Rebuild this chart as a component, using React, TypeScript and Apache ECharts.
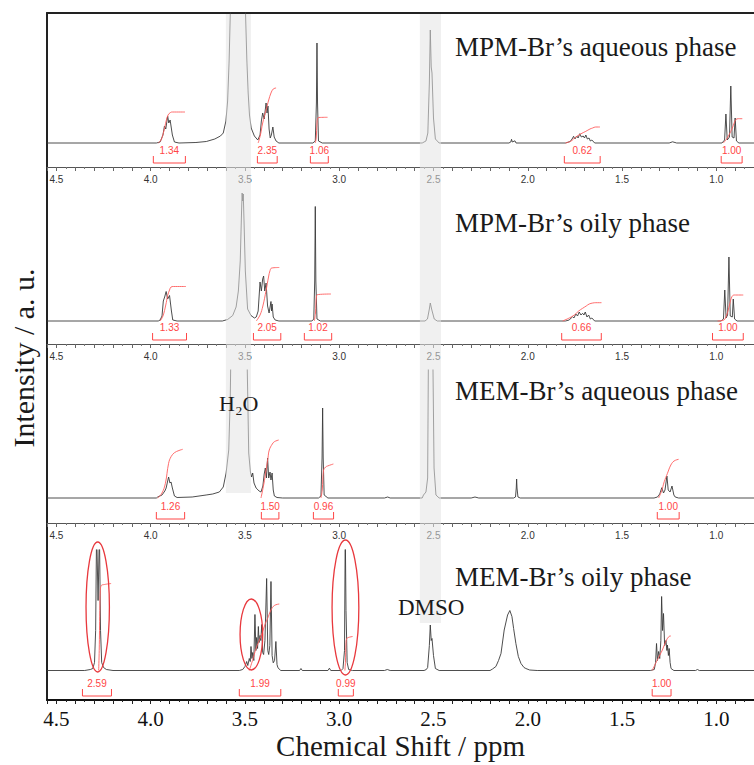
import React, { useEffect, useRef } from "react";
import * as echarts from "echarts";

// ---------- axis ----------
const shiftMin = 0.8;
const shiftMax = 4.55;
const shiftTickStep = 0.1;

const panelTitles = [
  "MPM-Br’s aqueous phase",
  "MPM-Br’s oily phase",
  "MEM-Br’s aqueous phase",
  "MEM-Br’s oily phase",
];
const axisTitleX = "Chemical Shift / ppm";
const axisTitleY = "Intensity / a. u.";
const waterLabel = "H₂O";
const dmsoLabel = "DMSO";

// shaded solvent regions [from ppm, to ppm]
const waterBand = [[3.601, 3.468]];
const dmsoBand = [[2.572, 2.46]];

// ---------- spectra [ppm, intensity] ----------
const mpmAqueousSpectrum = [
  [4.55, 0], [3.97, 0], [3.95, 1], [3.935, 8], [3.927, 17], [3.92, 14], [3.91, 27], [3.904, 20], [3.897, 23], [3.885, 8], [3.874, 1], [3.85, 0],
  [3.76, 0.5], [3.705, 1.5], [3.66, 4], [3.63, 7], [3.615, 10], [3.601, 22], [3.592, 42], [3.584, 82], [3.575, 150], [3.56, 240], [3.537, 300],
  [3.515, 240], [3.5, 150], [3.49, 83], [3.483, 50], [3.476, 28], [3.467, 15], [3.45, 7], [3.432, 3],
  [3.42, 8], [3.413, 22], [3.406, 30], [3.398, 24], [3.388, 40], [3.383, 30], [3.378, 37], [3.372, 14], [3.366, 5], [3.36, 8], [3.352, 16], [3.345, 6], [3.335, 2], [3.32, 0],
  [3.14, 0], [3.127, 2], [3.121, 40], [3.118, 100], [3.115, 40], [3.11, 2], [3.09, 0],
  [2.56, 0], [2.54, 2], [2.53, 10], [2.522, 60], [2.517, 113], [2.512, 76], [2.508, 70], [2.5, 25], [2.49, 4], [2.47, 0],
  [2.1, 0], [2.09, 1], [2.086, 3.7], [2.082, 1], [2.068, 2.2], [2.062, 0],
  [1.8, 0], [1.775, 1.5], [1.765, 4], [1.757, 6.7], [1.75, 4], [1.74, 7], [1.733, 5], [1.724, 9.3], [1.716, 6], [1.706, 7], [1.699, 5], [1.692, 8], [1.684, 4], [1.675, 5], [1.668, 2], [1.66, 3], [1.645, 0],
  [1.25, 0], [1.232, 1.2], [1.21, 0],
  [0.97, 0], [0.956, 3], [0.949, 29], [0.942, 3], [0.93, 6], [0.923, 57], [0.916, 6], [0.906, 5], [0.9, 25], [0.893, 2], [0.88, 0], [0.8, 0],
];

const mpmOilySpectrum = [
  [4.55, 0], [3.96, 0], [3.95, 1], [3.94, 5], [3.933, 20], [3.926, 24], [3.918, 29.5], [3.91, 22], [3.9, 25.5], [3.89, 10], [3.883, 1], [3.86, 0],
  [3.62, 0], [3.592, 1.5], [3.565, 5.5], [3.547, 14], [3.535, 30], [3.525, 60], [3.518, 110], [3.515, 128], [3.512, 120], [3.509, 127], [3.505, 100], [3.498, 50], [3.486, 12], [3.468, 5.5], [3.45, 3], [3.44, 4], [3.43, 10],
  [3.42, 39], [3.413, 30], [3.406, 42], [3.401, 45], [3.395, 30], [3.388, 38], [3.38, 15], [3.372, 8], [3.362, 19.5], [3.359, 10], [3.356, 17], [3.35, 4], [3.34, 1], [3.32, 0],
  [3.145, 0], [3.135, 2], [3.13, 40], [3.127, 114.5], [3.124, 40], [3.118, 2], [3.1, 0],
  [2.545, 0], [2.532, 2], [2.522, 12], [2.517, 18], [2.51, 12], [2.496, 2], [2.48, 0],
  [1.8, 0], [1.78, 1], [1.77, 3], [1.762, 4.3], [1.755, 3], [1.745, 7], [1.736, 5], [1.727, 9], [1.718, 6], [1.709, 7.7], [1.702, 6], [1.695, 9], [1.686, 4], [1.677, 6], [1.668, 2], [1.66, 3], [1.645, 0],
  [0.975, 0], [0.962, 2], [0.955, 31], [0.948, 3], [0.94, 6], [0.933, 64], [0.926, 5], [0.915, 4], [0.91, 22], [0.903, 2], [0.89, 0], [0.8, 0],
];

const memAqueousSpectrum = [
  [4.55, 0], [3.97, 0], [3.963, 1], [3.94, 3], [3.925, 7], [3.918, 10], [3.91, 17], [3.905, 21], [3.898, 15], [3.892, 16], [3.885, 10], [3.874, 2], [3.86, 0.5],
  [3.78, 1], [3.706, 3], [3.671, 4], [3.636, 6], [3.615, 11], [3.6, 25], [3.586, 48], [3.578, 100], [3.572, 180], [3.54, 230], [3.493, 180], [3.486, 110], [3.48, 45],
  [3.471, 26], [3.465, 21], [3.459, 25], [3.452, 15], [3.441, 10], [3.425, 7], [3.415, 6],
  [3.405, 12], [3.398, 24], [3.392, 30], [3.386, 20], [3.38, 40], [3.374, 20], [3.367, 26], [3.362, 18], [3.356, 25], [3.35, 8], [3.344, 2], [3.33, 0.5], [3.3, 0],
  [3.11, 0], [3.097, 2], [3.091, 40], [3.088, 90], [3.085, 40], [3.08, 3], [3.06, 0],
  [2.76, 0], [2.743, 1], [2.73, 0],
  [2.56, 0], [2.553, 3], [2.54, 6], [2.531, 20], [2.526, 170], [2.515, 140], [2.505, 170], [2.497, 30], [2.487, 3], [2.47, 0],
  [2.3, 0], [2.28, 1], [2.26, 0],
  [2.075, 0], [2.065, 1], [2.061, 10], [2.059, 19], [2.057, 10], [2.052, 1], [2.04, 0],
  [1.33, 0], [1.312, 1], [1.3, 4], [1.289, 10.3], [1.28, 5], [1.272, 8], [1.262, 22], [1.255, 8], [1.245, 6], [1.235, 12], [1.225, 3], [1.218, 1], [1.2, 0], [0.8, 0],
];

const memOilySpectrum = [
  [4.55, 0], [4.35, 0], [4.32, 1], [4.307, 2], [4.298, 8], [4.292, 40], [4.287, 140], [4.279, 70], [4.272, 140], [4.266, 40], [4.26, 8], [4.25, 3], [4.235, 1], [4.2, 0],
  [3.53, 0], [3.512, 1], [3.5, 4], [3.491, 9], [3.485, 5], [3.477, 12], [3.472, 9], [3.468, 24], [3.463, 12], [3.459, 18], [3.453, 10], [3.447, 56], [3.442, 20], [3.438, 33], [3.433, 22],
  [3.429, 44], [3.425, 28], [3.42, 35], [3.416, 30], [3.411, 46], [3.406, 18], [3.401, 16], [3.394, 30], [3.385, 92], [3.379, 20], [3.374, 16], [3.368, 25], [3.362, 89], [3.356, 15],
  [3.35, 7.7], [3.343, 10], [3.336, 29], [3.33, 6], [3.325, 2.7], [3.31, 0],
  [3.21, 0], [3.203, 2], [3.196, 0],
  [3.06, 0], [3.052, 2.3], [3.045, 0],
  [2.99, 0], [2.98, 2], [2.972, 20], [2.968, 140], [2.964, 60], [2.958, 8], [2.95, 1], [2.93, 0],
  [2.76, 0], [2.745, 1], [2.73, 0],
  [2.55, 0], [2.538, 1], [2.531, 3], [2.522, 25], [2.517, 45.5], [2.512, 30], [2.508, 32], [2.5, 15], [2.49, 2], [2.47, 0],
  [2.2, 0], [2.187, 1.5], [2.169, 4], [2.155, 10], [2.142, 17], [2.125, 40.5], [2.107, 55.5], [2.095, 60], [2.084, 54], [2.075, 42], [2.063, 27], [2.05, 14], [2.036, 7], [2.02, 3], [2.01, 2], [1.99, 0.5], [1.95, 0],
  [1.35, 0], [1.329, 1], [1.322, 8], [1.317, 27], [1.312, 10], [1.306, 19], [1.3, 12], [1.294, 30], [1.29, 74], [1.285, 40], [1.28, 57], [1.274, 25], [1.267, 30], [1.262, 20],
  [1.259, 25.5], [1.254, 15], [1.25, 22], [1.245, 8], [1.24, 2], [1.225, 0],
  [1.11, 0], [1.1, 1], [1.09, 0], [0.8, 0],
];

// ---------- integral curves ----------
const mpmAqueousIntegrals = [
  [[3.96, 0], [3.945, 3], [3.93, 12], [3.918, 22], [3.908, 28], [3.895, 30.5], [3.885, 31], [3.818, 31]],
  [[3.43, 0], [3.418, 8], [3.406, 20], [3.388, 33], [3.374, 43], [3.362, 50], [3.35, 54], [3.335, 55]],
  [[3.127, 0], [3.122, 5], [3.118, 20], [3.114, 25], [3.108, 25.5], [3.062, 25.7]],
  [[1.8, 0], [1.77, 2], [1.745, 6], [1.72, 9], [1.692, 11.7], [1.67, 14], [1.656, 15], [1.64, 16], [1.617, 16]],
  [[0.963, 0], [0.945, 4], [0.932, 8.3], [0.915, 15], [0.905, 20], [0.897, 23.3], [0.883, 24.3], [0.862, 24.3]],
];
const mpmOilyIntegrals = [
  [[3.95, 0], [3.935, 5], [3.92, 16], [3.91, 25.5], [3.9, 31], [3.892, 34], [3.88, 34.5], [3.813, 34.5]],
  [[3.44, 0], [3.42, 6], [3.405, 15], [3.388, 30.5], [3.375, 44], [3.367, 50.5], [3.358, 53], [3.318, 53.5]],
  [[3.132, 0], [3.126, 8], [3.12, 25.5], [3.11, 26.5], [3.044, 27]],
  [[1.815, 0], [1.78, 3], [1.753, 6], [1.73, 10], [1.709, 12.7], [1.69, 15], [1.674, 17], [1.655, 18], [1.639, 18.3], [1.609, 18.3]],
  [[0.993, 0], [0.96, 1], [0.945, 6], [0.93, 16], [0.918, 24], [0.905, 26], [0.857, 26]],
];
const memAqueousIntegrals = [
  [[3.963, 0], [3.94, 5], [3.922, 14.7], [3.905, 34.7], [3.892, 41.3], [3.874, 45.3], [3.85, 47.5], [3.83, 48.7]],
  [[3.415, 0], [3.4, 14], [3.388, 28], [3.378, 40], [3.371, 48], [3.355, 54], [3.344, 56.3], [3.321, 58]],
  [[3.097, 0], [3.09, 8], [3.083, 28], [3.072, 31], [3.062, 32], [3.031, 34]],
  [[1.306, 0], [1.29, 7], [1.276, 16.3], [1.259, 24.7], [1.241, 33], [1.224, 37], [1.2, 38.7]],
];
const memOilyIntegrals = [
  [[4.276, 0], [4.273, 20], [4.27, 60], [4.267, 80], [4.262, 85], [4.245, 86], [4.21, 87]],
  [[3.477, 0], [3.46, 10], [3.441, 22], [3.42, 32], [3.406, 39], [3.39, 48], [3.38, 52], [3.362, 60.5], [3.344, 65], [3.318, 66.5]],
  [[2.97, 0], [2.967, 8], [2.964, 28], [2.96, 32], [2.952, 33], [2.929, 34]],
  [[1.34, 0], [1.313, 10.5], [1.286, 20.5], [1.268, 29], [1.251, 34], [1.241, 34.5]],
];

// ---------- integral brackets [from ppm, to ppm, integral] ----------
const mpmAqueousBrackets = [[3.986, 3.816, 1.34], [3.434, 3.329, 2.35], [3.153, 3.058, 1.06], [1.806, 1.616, 0.62], [0.974, 0.863, 1.0]];
const mpmOilyBrackets = [[3.99, 3.81, 1.33], [3.455, 3.31, 2.05], [3.185, 3.04, 1.02], [1.82, 1.61, 0.66], [1.02, 0.857, 1.0]];
const memAqueousBrackets = [[3.97, 3.82, 1.26], [3.413, 3.32, 1.5], [3.137, 3.03, 0.96], [1.313, 1.197, 1.0]];
const memOilyBrackets = [[4.362, 4.208, 2.59], [3.53, 3.31, 1.99], [3.005, 2.925, 0.99], [1.34, 1.24, 1.0]];

// ---------- circled peaks [ppm, intensity, half width ppm, half height] ----------
const memOilyCircled = [[4.281, 63.5, 0.062, 65], [3.466, 36, 0.06, 35.5], [2.967, 63, 0.071, 67.5]];

// ---------- layout ----------
const LEFT = 47;
const panels = [
  { top: 13, height: 154, yMin: -24, yMax: 130, titleY: 47, spectrum: mpmAqueousSpectrum, integrals: mpmAqueousIntegrals, brackets: mpmAqueousBrackets },
  { top: 185, height: 159, yMin: -23, yMax: 136, titleY: 223, spectrum: mpmOilySpectrum, integrals: mpmOilyIntegrals, brackets: mpmOilyBrackets },
  { top: 370, height: 153, yMin: -25, yMax: 128, titleY: 391, spectrum: memAqueousSpectrum, integrals: memAqueousIntegrals, brackets: memAqueousBrackets },
  { top: 550, height: 150, yMin: -29.5, yMax: 120.5, titleY: 577, spectrum: memOilySpectrum, integrals: memOilyIntegrals, brackets: memOilyBrackets },
];

const SERIF = '"Liberation Serif", "Times New Roman", serif';
const SANS = '"Liberation Sans", Arial, sans-serif';
const RED = "#ff4646";
const INK = "#1a1a1a";

const isHalf = (v: number) => Math.abs(v * 2 - Math.round(v * 2)) < 1e-6;

function buildOption() {
  const grid: any[] = [
    { left: LEFT, right: 0, top: 13, height: 687, outerBoundsMode: "none" },
    ...panels.map((p) => ({ left: LEFT, right: 0, top: p.top, height: p.height, outerBoundsMode: "none" })),
    { left: LEFT, right: 0, top: 14, height: 479, outerBoundsMode: "none" },
    { left: LEFT, right: 0, top: 14, height: 609, outerBoundsMode: "none" },
  ];

  const xAxis: any[] = [
    {
      gridIndex: 0, type: "value", min: shiftMin, max: shiftMax, inverse: true, position: "top",
      axisLine: { show: true, onZero: false, lineStyle: { color: "#222", width: 2 } },
      axisTick: { show: false }, axisLabel: { show: false }, splitLine: { show: false },
    },
    ...panels.map((p, i) => {
      const last = i === panels.length - 1;
      return {
        gridIndex: i + 1, type: "value", min: shiftMin, max: shiftMax, inverse: true, position: "bottom",
        interval: shiftTickStep,
        axisLine: { show: true, onZero: false, lineStyle: { color: last ? "#111" : "#555", width: last ? 2 : 1 } },
        axisTick: { show: true, length: 4, lineStyle: { color: last ? "#222" : "#666", width: 1 } },
        minorTick: { show: true, splitNumber: 2, length: 2, lineStyle: { color: last ? "#222" : "#777" } },
        splitLine: { show: false },
        axisLabel: {
          interval: 0,
          margin: last ? 8 : 7,
          color: last ? "#111" : "#333",
          fontFamily: last ? SERIF : SANS,
          fontSize: last ? 21 : 10,
          formatter: (v: number) => (isHalf(v) ? v.toFixed(1) : ""),
        },
        name: last ? axisTitleX : "",
        nameLocation: "middle",
        nameGap: 31,
        nameTextStyle: { fontFamily: SERIF, fontSize: 29, color: INK },
      };
    }),
    { gridIndex: 5, type: "value", min: shiftMin, max: shiftMax, inverse: true, show: false },
    { gridIndex: 6, type: "value", min: shiftMin, max: shiftMax, inverse: true, show: false },
  ];

  const yAxis: any[] = [
    {
      gridIndex: 0, type: "value", min: 0, max: 1,
      axisLine: { show: true, onZero: false, lineStyle: { color: "#222", width: 2 } },
      axisTick: { show: false }, axisLabel: { show: false }, splitLine: { show: false },
    },
    ...panels.map((p, i) => ({ gridIndex: i + 1, type: "value", min: p.yMin, max: p.yMax, show: false })),
    { gridIndex: 5, type: "value", min: 0, max: 1, show: false },
    { gridIndex: 6, type: "value", min: 0, max: 1, show: false },
  ];

  const series: any[] = [];
  panels.forEach((p, i) => {
    const ax = i + 1;
    series.push({
      type: "line", xAxisIndex: ax, yAxisIndex: ax, data: p.spectrum, symbol: "none",
      lineStyle: { color: "#3a3a3a", width: 0.9 }, z: 3, silent: true, clip: true,
    });
    p.integrals.forEach((curve) => {
      series.push({
        type: "line", xAxisIndex: ax, yAxisIndex: ax, data: curve, symbol: "none", smooth: 0.4,
        lineStyle: { color: "#ff5c5c", width: 0.9 }, z: 4, silent: true,
      });
    });
    const br = p.brackets;
    series.push({
      type: "custom", xAxisIndex: ax, yAxisIndex: ax, data: br, z: 4, silent: true,
      renderItem: (params: any, api: any) => {
        const cs = params.coordSys;
        const yLine = cs.y + cs.height - 4;
        const x1 = api.coord([api.value(0), 0])[0];
        const x2 = api.coord([api.value(1), 0])[0];
        const val = br[params.dataIndex][2] as number;
        return {
          type: "group",
          children: [
            {
              type: "polyline",
              shape: { points: [[x1, yLine - 7], [x1, yLine], [x2, yLine], [x2, yLine - 7]] },
              style: { stroke: RED, fill: "none", lineWidth: 1 },
            },
            {
              type: "text",
              x: (x1 + x2) / 2,
              y: yLine - 13,
              style: { text: val.toFixed(2), fill: RED, font: `10px ${SANS}`, align: "center", verticalAlign: "middle" },
            },
          ],
        };
      },
    });
  });

  series.push({
    type: "custom", xAxisIndex: 4, yAxisIndex: 4, data: memOilyCircled, z: 5, silent: true, clip: false,
    renderItem: (params: any, api: any) => {
      const c = api.coord([api.value(0), api.value(1)]);
      const s = api.size([api.value(2), api.value(3)]);
      return {
        type: "ellipse",
        shape: { cx: c[0], cy: c[1], rx: Math.abs(s[0]), ry: Math.abs(s[1]) },
        style: { stroke: "#e8383d", fill: "none", lineWidth: 1.3 },
      };
    },
  });

  const bandRender = (params: any, api: any) => {
    const a = api.coord([api.value(0), 0])[0];
    const b = api.coord([api.value(1), 0])[0];
    const cs = params.coordSys;
    return {
      type: "rect",
      shape: { x: Math.min(a, b), y: cs.y, width: Math.abs(b - a), height: cs.height },
      style: { fill: "rgba(228,228,228,0.55)" },
    };
  };
  series.push({ type: "custom", xAxisIndex: 5, yAxisIndex: 5, data: waterBand, z: 10, silent: true, renderItem: bandRender });
  series.push({ type: "custom", xAxisIndex: 6, yAxisIndex: 6, data: dmsoBand, z: 10, silent: true, renderItem: bandRender });

  const graphic: any[] = [
    ...panels.map((p, i) => ({
      type: "text", x: 455, y: p.titleY, z: 100,
      style: { text: panelTitles[i], font: `27px ${SERIF}`, fill: INK, align: "left", verticalAlign: "middle" },
    })),
    {
      type: "text", x: 23, y: 358, rotation: Math.PI / 2, z: 100,
      style: { text: axisTitleY, font: `30px ${SERIF}`, fill: INK, align: "center", verticalAlign: "middle" },
    },
    {
      type: "text", x: 219, y: 403, z: 100,
      style: { text: waterLabel, font: `22px ${SERIF}`, fill: INK, align: "left", verticalAlign: "middle" },
    },
    {
      type: "text", x: 398, y: 607, z: 100,
      style: { text: dmsoLabel, font: `23px ${SERIF}`, fill: INK, align: "left", verticalAlign: "middle" },
    },
  ];

  return {
    animation: false,
    backgroundColor: "#ffffff",
    textStyle: { fontFamily: SANS },
    grid,
    xAxis,
    yAxis,
    series,
    graphic,
  };
}

export default function App() {
  const ref = useRef<HTMLDivElement>(null);
  useEffect(() => {
    if (!ref.current) return;
    const chart = echarts.init(ref.current, null, { renderer: "svg" });
    chart.setOption(buildOption() as any);
    return () => chart.dispose();
  }, []);
  return (
    <div
      ref={ref}
      style={{ position: "absolute", left: 0, top: 0, width: 754, height: 765, background: "#fff" }}
    />
  );
}
